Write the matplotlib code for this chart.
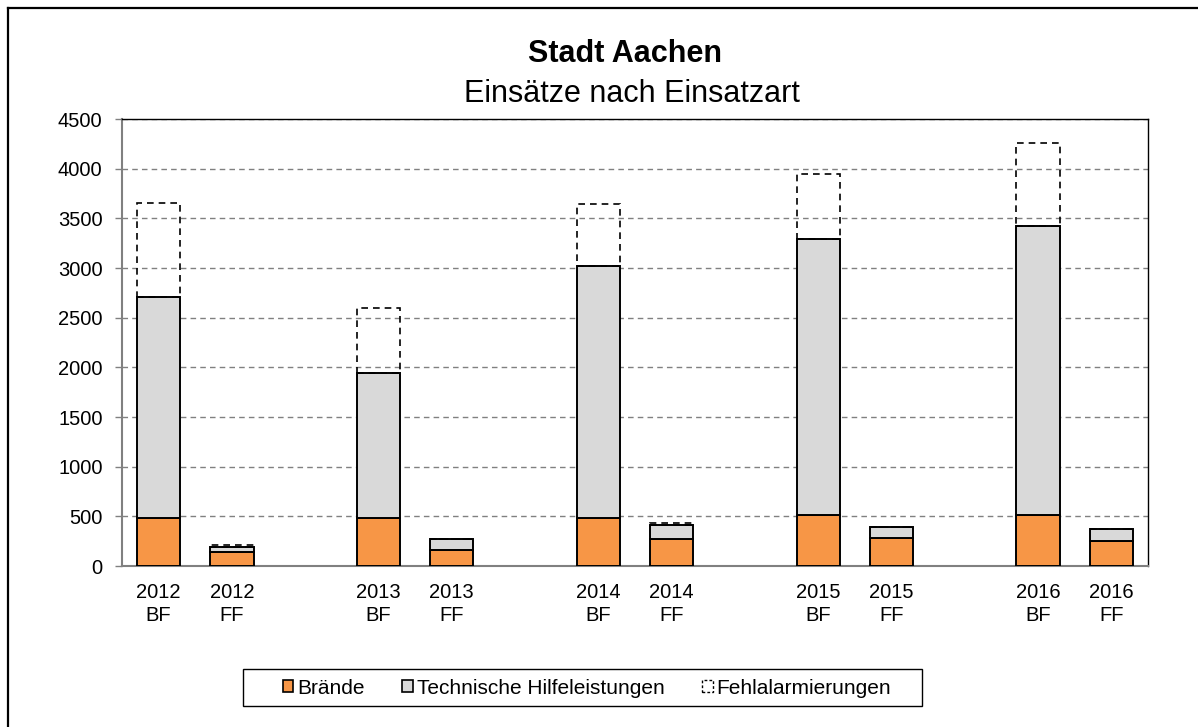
import matplotlib.pyplot as plt
from matplotlib.lines import Line2D
from matplotlib.patches import Patch, Rectangle
import numpy as np

plt.rcParams["font.family"] = ["Liberation Sans", "DejaVu Sans"]

# Data
years = ["2012", "2012", "2013", "2013", "2014", "2014", "2015", "2015", "2016", "2016"]
units = ["BF", "FF", "BF", "FF", "BF", "FF", "BF", "FF", "BF", "FF"]
braende = [480, 140, 480, 160, 480, 272, 510, 285, 510, 250]
hilfe = [2230, 50, 1460, 110, 2540, 140, 2780, 110, 2910, 118]
fehlalarm = [940, 20, 660, 0, 620, 20, 660, 0, 840, 0]

orange = "#F79646"
grey = "#D9D9D9"
W, H = 1198, 727

# BF/FF pairs with an empty slot between years
idx = np.arange(len(years))
x = idx + idx // 2

fig = plt.figure(figsize=(W / 100, H / 100), dpi=100)
ax = fig.add_axes([122 / W, 1 - 566 / H, 1026 / W, 447 / H])

w = 0.59
b = np.array(braende)
h = np.array(hilfe)
f = np.array(fehlalarm)
ax.bar(x, b, w, color=orange, edgecolor="black", linewidth=1.4, zorder=3)
ax.bar(x, h, w, bottom=b, color=grey, edgecolor="black", linewidth=1.4, zorder=3)
ax.bar(x, f, w, bottom=b + h, facecolor="none", edgecolor="black",
       linewidth=1.2, linestyle=(0, (4, 3)), zorder=3)

ax.set_xlim(-0.5, 13.5)
ax.set_ylim(0, 4500)
ax.set_yticks(np.arange(0, 4501, 500))
ax.set_xticks(x)
ax.set_xticklabels([f"{y}\n{u}" for y, u in zip(years, units)], linespacing=1.3)
ax.tick_params(axis="x", length=0, pad=12, labelsize=14.5)
ax.tick_params(axis="y", length=5, width=1, color="#808080", pad=9, labelsize=14.5)

ax.yaxis.grid(True, color="#808080", linestyle=(0, (4, 3)), linewidth=1)
ax.set_axisbelow(True)
for s in ["left", "bottom"]:
    ax.spines[s].set_color("#808080")
    ax.spines[s].set_linewidth(1.5)
for s in ["top", "right"]:
    ax.spines[s].set_color("black")
    ax.spines[s].set_linewidth(1)

fig.text(625 / W, 1 - 54 / H, "Stadt Aachen", ha="center", va="center",
         fontsize=22, fontweight="bold")
fig.text(632 / W, 1 - 94 / H, "Einsätze nach Einsatzart", ha="center",
         va="center", fontsize=22)

handles = [
    Patch(facecolor=orange, edgecolor="black", linewidth=1.2),
    Patch(facecolor=grey, edgecolor="black", linewidth=1.2),
    Patch(facecolor="white", edgecolor="black", linewidth=1.0, linestyle=(0, (2, 1.5))),
]
leg = fig.legend(handles, ["Brände", "Technische Hilfeleistungen", "Fehlalarmierungen"],
                 loc="center", bbox_to_anchor=(587 / W, 1 - 688 / H),
                 ncol=3, fontsize=15, frameon=False,
                 handlelength=0.5, handleheight=0.5, handletextpad=0.2,
                 columnspacing=1.8)
fig.add_artist(Rectangle((243 / W, 1 - 706 / H), 679 / W, 37 / H,
                         transform=fig.transFigure, facecolor="none",
                         edgecolor="black", linewidth=1))

# outer chart border (top and left visible)
fig.add_artist(Line2D([7.5 / W, 1], [1 - 7.5 / H, 1 - 7.5 / H],
                      color="black", linewidth=1.6, transform=fig.transFigure))
fig.add_artist(Line2D([7.5 / W, 7.5 / W], [0, 1 - 7.5 / H],
                      color="black", linewidth=1.6, transform=fig.transFigure))

fig.savefig("out.png", dpi=100)
